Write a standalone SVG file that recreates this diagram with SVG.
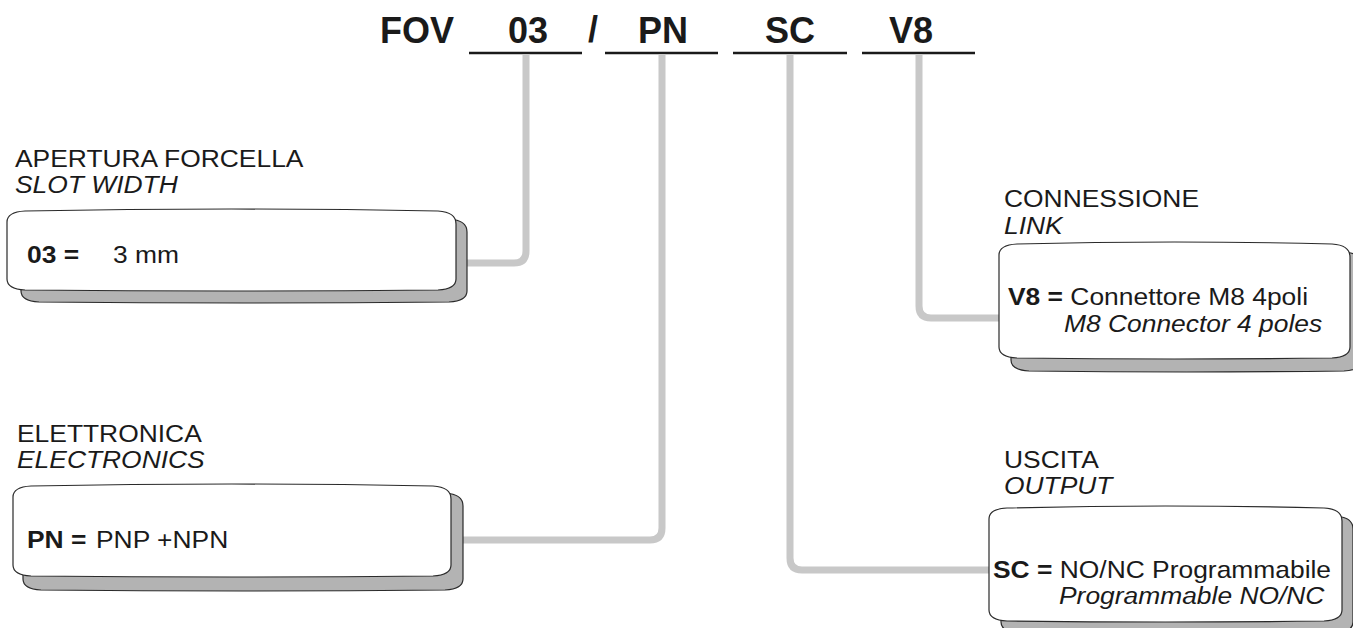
<svg xmlns="http://www.w3.org/2000/svg" width="1353" height="628" viewBox="0 0 1353 628">
<style>
.t{font-family:"Liberation Sans",Arial,sans-serif;font-size:24px;fill:#1a1a1a}
.b{font-weight:bold}
.i{font-style:italic}
.title{font-family:"Liberation Sans",Arial,sans-serif;font-size:36px;font-weight:bold;fill:#1a1a1a}
.ul{stroke:#1a1a1a;stroke-width:2.5;fill:none}
.con{stroke:#c8c8c8;stroke-width:7;fill:none;stroke-linejoin:round}
.sh{fill:#b3b3b3;stroke:#2a2a2a;stroke-width:1.2}
.bx{fill:#ffffff;stroke:#2a2a2a;stroke-width:1.2}
</style>
<rect width="1353" height="628" fill="#ffffff"/>
<g id="title">
<text class="title" x="380" y="43">FOV</text>
<text class="title" x="508" y="43">03</text>
<text class="title" x="588" y="42">/</text>
<text class="title" x="638" y="43">PN</text>
<text class="title" x="765" y="43">SC</text>
<text class="title" x="889" y="43">V8</text>
<path class="ul" d="M469,53H582M605,53H718M733,53H847M862,53H975"/>
</g>
<g id="connectors">
<path class="con" d="M526,54V251Q526,263 514,263H467"/>
<path class="con" d="M662,54V528Q662,540 650,540H463"/>
<path class="con" d="M790,54V558Q790,570 802,570H989"/>
<path class="con" d="M919,54V306Q919,318 931,318H999"/>
</g>
<g id="node-slot">
<text class="t" transform="translate(15,167) scale(1.1,1)">APERTURA FORCELLA</text>
<text class="t i" transform="translate(15,193) scale(1.1,1)">SLOT WIDTH</text>
<path class="sh" d="M21,230Q21,220 39,219Q244,215 449,219Q467,220 467,232L467,291Q467,301 449,302Q244,304 39,302Q21,301 21,291Z"/>
<path class="bx" d="M7,222Q7,212 25,211Q231,207 438,211Q456,212 456,224L456,279Q456,289 438,290Q231,292 25,290Q7,289 7,279Z"/>
<text class="t b" transform="translate(27,263) scale(1.1,1)">03 =</text>
<text class="t" transform="translate(113,263) scale(1.1,1)">3 mm</text>
</g>
<g id="node-electronics">
<text class="t" transform="translate(17,442) scale(1.1,1)">ELETTRONICA</text>
<text class="t i" transform="translate(17,468) scale(1.1,1)">ELECTRONICS</text>
<path class="sh" d="M23,504Q23,494 41,493Q243,489 445,493Q463,494 463,506L463,579Q463,589 445,590Q243,592 41,590Q23,589 23,579Z"/>
<path class="bx" d="M13,497Q13,487 31,486Q232,482 433,486Q451,487 451,499L451,565Q451,575 433,576Q232,578 31,576Q13,575 13,565Z"/>
<text class="t b" transform="translate(27,548) scale(1.1,1)">PN =</text>
<text class="t" transform="translate(96,548) scale(1.1,1)">PNP +NPN</text>
</g>
<g id="node-link">
<text class="t" transform="translate(1004,207) scale(1.1,1)">CONNESSIONE</text>
<text class="t i" transform="translate(1004,234) scale(1.1,1)">LINK</text>
<path class="sh" d="M1011,263Q1011,253 1029,252Q1186,248 1344,252Q1362,253 1362,265L1362,360Q1362,370 1344,371Q1186,373 1029,371Q1011,370 1011,360Z"/>
<path class="bx" d="M999,255Q999,245 1017,244Q1174,240 1332,244Q1350,245 1350,257L1350,347Q1350,357 1332,358Q1174,360 1017,358Q999,357 999,347Z"/>
<text class="t" transform="translate(1008,305) scale(1.1,1)"><tspan class="b">V8 =</tspan> Connettore M8 4poli</text>
<text class="t i" transform="translate(1064,332) scale(1.1,1)">M8 Connector 4 poles</text>
</g>
<g id="node-output">
<text class="t" transform="translate(1004,468) scale(1.1,1)">USCITA</text>
<text class="t i" transform="translate(1004,494) scale(1.1,1)">OUTPUT</text>
<path class="sh" d="M1001,527Q1001,517 1019,516Q1177,512 1335,516Q1353,517 1353,529L1353,622Q1353,632 1335,633Q1177,635 1019,633Q1001,632 1001,622Z"/>
<path class="bx" d="M989,519Q989,509 1007,508Q1165,504 1324,508Q1342,509 1342,521L1342,610Q1342,620 1324,621Q1165,623 1007,621Q989,620 989,610Z"/>
<text class="t" transform="translate(993,578) scale(1.1,1)"><tspan class="b">SC =</tspan> NO/NC Programmabile</text>
<text class="t i" transform="translate(1059,604) scale(1.1,1)">Programmable NO/NC</text>
</g>
</svg>
